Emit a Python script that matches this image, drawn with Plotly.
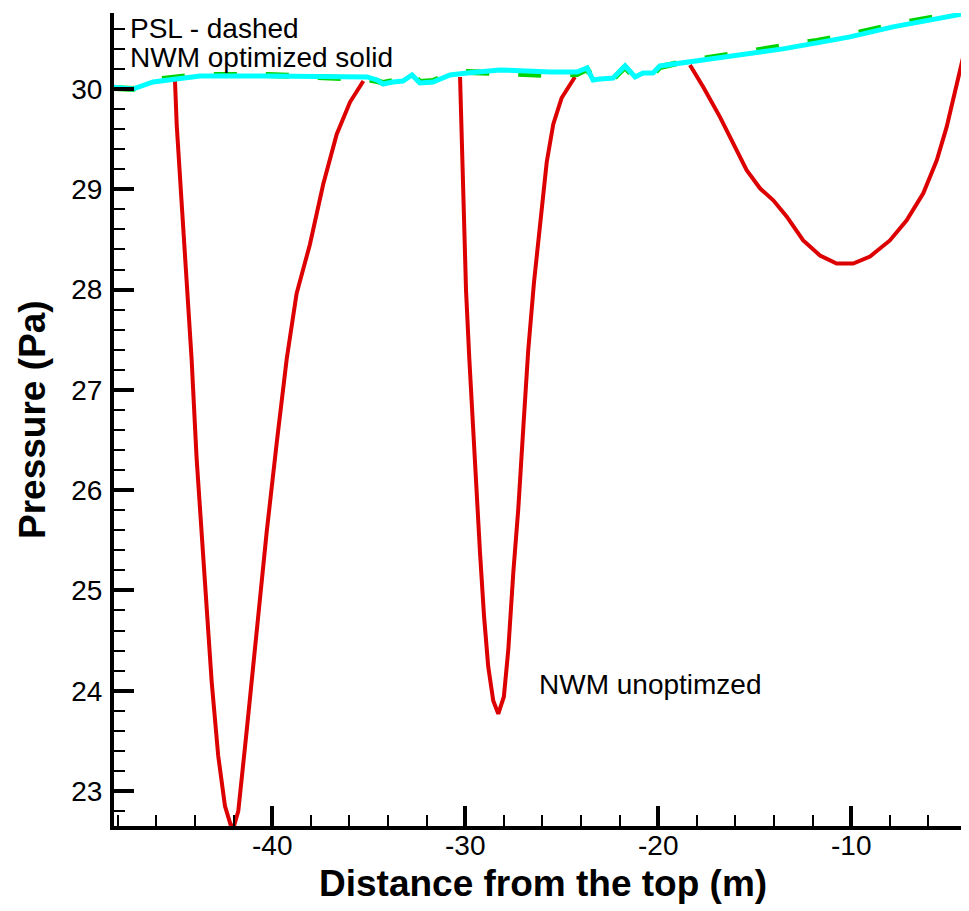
import plotly.graph_objects as go

# ---------------- data ----------------
# NWM optimized (cyan, solid)
opt_x = [-48.3, -47.22, -46.18, -44.63, -43.75, -40.27, -35.09, -34.57, -34.26, -33.75,
         -33.23, -32.76, -32.35, -31.67, -30.79, -29.91, -28.20, -25.61, -24.21, -23.69,
         -23.38, -23.02, -22.34, -21.72, -21.20, -20.79, -20.27, -19.91, -18.72, -16.96,
         -15.25, -13.54, -11.78, -10.07, -7.84, -5.25, -3.9, -3.5]
opt_y = [30.02, 30.00, 30.07, 30.11, 30.13, 30.13, 30.12, 30.09, 30.05, 30.07,
         30.08, 30.14, 30.06, 30.07, 30.14, 30.16, 30.19, 30.17, 30.17, 30.21,
         30.09, 30.10, 30.11, 30.23, 30.12, 30.16, 30.16, 30.23, 30.26, 30.31,
         30.36, 30.40, 30.46, 30.52, 30.62, 30.71, 30.76, 30.80]

# PSL (green, dashed)
psl_x = opt_x
psl_y = [30.01, 30.00, 30.09, 30.13, 30.14, 30.14, 30.10, 30.08, 30.06, 30.08,
         30.09, 30.15, 30.07, 30.08, 30.15, 30.17, 30.16, 30.14, 30.15, 30.20,
         30.10, 30.09, 30.10, 30.22, 30.11, 30.14, 30.15, 30.22, 30.27, 30.32,
         30.38, 30.42, 30.48, 30.54, 30.64, 30.73, 30.78, 30.82]

# NWM unoptimized (red) - three dips
red_x = [-45.04, -44.95, -44.69, -44.44, -44.18, -43.92, -43.66, -43.40, -43.14, -42.80,
         -42.45, -42.06, -41.76, -41.33, -40.81, -40.29, -39.77, -39.25, -38.74, -38.05,
         -37.36, -36.66, -35.97, -35.28, None,
         -30.27, -30.19, -30.10, -29.96, -29.79, -29.62, -29.41, -29.24, -29.03, -28.81,
         -28.55, -28.29, -28.00, -27.77, -27.51, -27.25, -26.99, -26.74, -26.44, -26.13,
         -25.78, -25.44, -25.01, -24.32, None,
         -18.36, -17.67, -16.80, -16.11, -15.42, -14.73, -14.04, -13.35, -12.49, -11.62,
         -10.76, -9.90, -9.03, -8.00, -7.13, -6.27, -5.57, -5.06, -4.54, -4.20, -3.90, -3.7]
red_y = [30.08, 29.64, 28.85, 28.06, 27.31, 26.32, 25.58, 24.84, 24.09, 23.35,
         22.85, 22.60, 22.80, 23.59, 24.59, 25.58, 26.47, 27.31, 27.96, 28.45,
         29.05, 29.55, 29.87, 30.08, None,
         30.12, 29.57, 28.76, 27.99, 27.31, 26.67, 26.03, 25.39, 24.75, 24.24,
         23.90, 23.77, 23.94, 24.41, 25.18, 25.82, 26.63, 27.39, 28.07, 28.67,
         29.27, 29.65, 29.91, 30.12, None,
         30.24, 30.02, 29.72, 29.46, 29.19, 29.01, 28.89, 28.73, 28.49, 28.34,
         28.26, 28.26, 28.33, 28.49, 28.69, 28.96, 29.29, 29.62, 30.02, 30.32, 30.59, 30.75]

x_tick_vals = [-40, -30, -20, -10]
x_tick_text = ["-40", "-30", "-20", "-10"]
y_tick_vals = [23, 24, 25, 26, 27, 28, 29, 30]
y_tick_text = ["23", "24", "25", "26", "27", "28", "29", "30"]

x_title = "Distance from the top (m)"
y_title = "Pressure (Pa)"

# ---------------- figure ----------------
fig = go.Figure()
fig.add_trace(go.Scatter(x=red_x, y=red_y, mode="lines", name="NWM unoptimized",
                         line=dict(color="#DD0000", width=4), connectgaps=False))
fig.add_trace(go.Scatter(x=psl_x, y=psl_y, mode="lines", name="PSL",
                         line=dict(color="#00D400", width=6, dash="23px,29px")))
fig.add_trace(go.Scatter(x=opt_x, y=opt_y, mode="lines", name="NWM optimized",
                         line=dict(color="#00FFFF", width=5)))

# page body has an 8px default margin: compensate
OFF = 8
W, H = 969 - OFF, 911 - OFF
ml, mr, mt, mb = 114 - OFF, 0, 13 - OFF, 85
pw, ph = W - ml - mr, H - mt - mb

def px(xp):
    # page pixel -> paper coordinate
    return (xp - OFF - ml) / pw

def py(yp):
    return (H - mb - (yp - OFF)) / ph

tickfont = dict(family="Liberation Sans", size=28, color="black")

fig.update_layout(
    width=W, height=H,
    margin=dict(l=ml, r=mr, t=mt, b=mb, pad=0),
    paper_bgcolor="white", plot_bgcolor="white",
    showlegend=False,
    xaxis=dict(range=[-48.20, -3.90], showgrid=False, zeroline=False,
               showline=True, linecolor="black", linewidth=4,
               tickmode="array", tickvals=x_tick_vals, ticktext=x_tick_text,
               ticks="inside", ticklen=20, tickwidth=4, tickcolor="black",
               tickfont=tickfont, ticklabelstandoff=-9,
               minor=dict(tickmode="linear", tick0=0, dtick=2, ticks="inside",
                          ticklen=11, tickwidth=2, tickcolor="black", showgrid=False)),
    yaxis=dict(range=[22.651, 30.758], showgrid=False, zeroline=False,
               showline=True, linecolor="black", linewidth=4,
               tickmode="array", tickvals=y_tick_vals, ticktext=y_tick_text,
               ticks="inside", ticklen=20, tickwidth=4, tickcolor="black",
               tickfont=tickfont, ticklabelstandoff=2,
               minor=dict(tickmode="linear", tick0=0, dtick=0.2, ticks="inside",
                          ticklen=11, tickwidth=2, tickcolor="black", showgrid=False)),
)

ann_font = dict(family="Liberation Sans", size=28, color="black")
title_font = dict(family="Liberation Sans", size=37, color="black")
fig.add_annotation(x=px(128), y=py(29), xref="paper", yref="paper", text="PSL - dashed",
                   showarrow=False, xanchor="left", yanchor="middle", font=ann_font)
fig.add_annotation(x=px(128), y=py(57), xref="paper", yref="paper", text="NWM optimized solid",
                   showarrow=False, xanchor="left", yanchor="middle", font=ann_font)
fig.add_annotation(x=px(537), y=py(684), xref="paper", yref="paper", text="NWM unoptimzed",
                   showarrow=False, xanchor="left", yanchor="middle", font=ann_font)
fig.add_annotation(x=px(543), y=py(883), xref="paper", yref="paper", text="<b>" + x_title + "</b>",
                   showarrow=False, xanchor="center", yanchor="middle", font=title_font)
fig.add_annotation(x=px(32), y=py(420), xref="paper", yref="paper", text="<b>" + y_title + "</b>",
                   showarrow=False, xanchor="center", yanchor="middle", textangle=-90,
                   font=title_font)

fig.write_html("out.html")
